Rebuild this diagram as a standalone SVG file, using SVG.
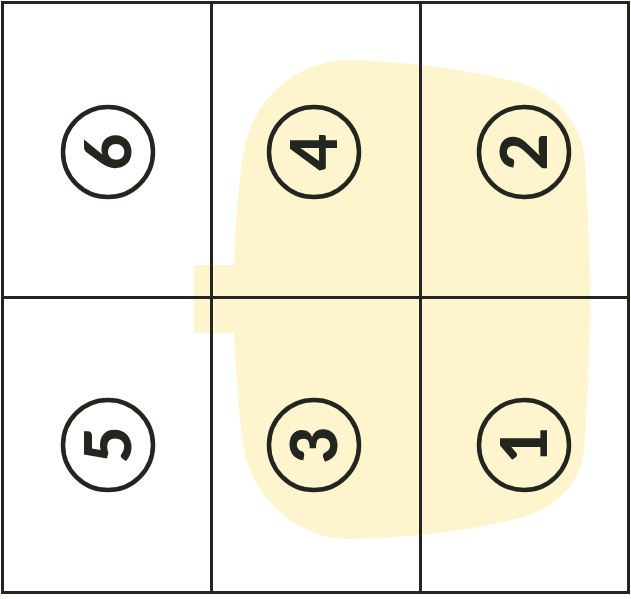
<svg xmlns="http://www.w3.org/2000/svg" width="631" height="599" viewBox="0 0 631 599">
<style>
.grid{fill:none;stroke:#23261f;stroke-width:3}
.ring{fill:none;stroke:#23261f;stroke-width:4.5}
.num{font-family:Lato,"DejaVu Sans",sans-serif;font-weight:900;font-size:64px;fill:#23261f;text-anchor:middle}
</style>
<rect width="631" height="599" fill="#ffffff"/>
<g id="region">
<path fill="#fef5cf" d="M194,265 L234,265 C236,220 238,185 244,150 C254,95 300,60 350,60 C420,63 470,70 516,82 C562,94 580,128 584,153 C588,200 590,260 590,298 C590,340 588,400 584,450 C580,482 560,508 516,519 C470,530 420,537 350,539 C300,540 254,500 244,450 C238,410 236,370 234,333 L194,333 Z"/>
</g>
<g id="connectors">
<rect class="grid" x="2.5" y="2.5" width="626" height="590"/>
<line class="grid" x1="211.5" y1="2" x2="211.5" y2="593"/>
<line class="grid" x1="420.5" y1="2" x2="420.5" y2="593"/>
<line class="grid" x1="2" y1="297.5" x2="629" y2="297.5"/>
</g>
<g id="n6"><circle class="ring" cx="108" cy="152" r="45"/><text class="num" transform="translate(108,152) rotate(-90)" y="23">6</text></g>
<g id="n4"><circle class="ring" cx="314" cy="152" r="45"/><text class="num" transform="translate(314,152) rotate(-90)" y="23">4</text></g>
<g id="n2"><circle class="ring" cx="524" cy="152" r="45"/><text class="num" transform="translate(524,152) rotate(-90)" y="23">2</text></g>
<g id="n5"><circle class="ring" cx="108" cy="445" r="45"/><text class="num" transform="translate(108,445) rotate(-90)" y="23">5</text></g>
<g id="n3"><circle class="ring" cx="314" cy="445" r="45"/><text class="num" transform="translate(314,445) rotate(-90)" y="23">3</text></g>
<g id="n1"><circle class="ring" cx="524" cy="445" r="45"/><text class="num" transform="translate(524,445) rotate(-90)" y="23">1</text></g>
</svg>
